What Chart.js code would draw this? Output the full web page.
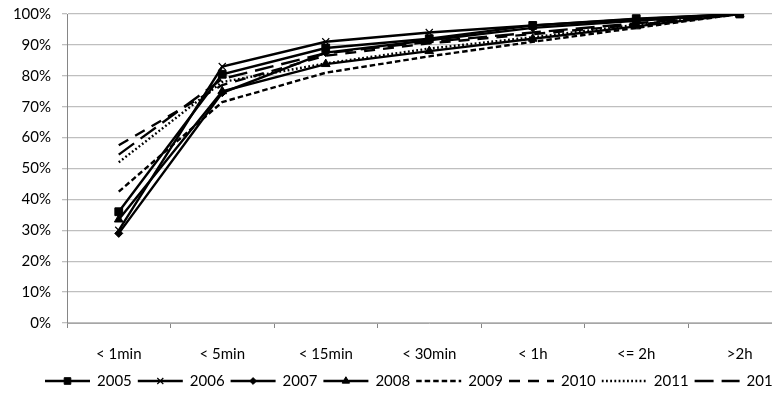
<!DOCTYPE html>
<html>
<head>
<meta charset="utf-8">
<script src="https://cdn.jsdelivr.net/npm/chart.js@4"></script>
<style>
    html, body { margin: 0; padding: 0; background: #ffffff; overflow: hidden; }
    #wrap { position: relative; width: 798px; height: 394px; }
</style>
</head>
<body>
<div id="wrap"><canvas id="chart"></canvas></div>
<script>
// categories along the x axis
const categories = ["< 1min", "< 5min", "< 15min", "< 30min", "< 1h", "<= 2h", ">2h"];
// cumulative share per year, percent
const years = ["2005", "2006", "2007", "2008", "2009", "2010", "2011", "2012"];
const v2005 = [36, 80.5, 89, 92, 96.3, 98.5, 100];
const v2006 = [30, 83, 91, 94, 96.3, 98.3, 100];
const v2007 = [29, 74.5, 87.5, 91.5, 95.5, 97.8, 100];
const v2008 = [33.5, 75, 83.8, 88, 92, 96, 100];
const v2009 = [42.5, 71.5, 81, 86.3, 91, 95.5, 100];
const v2010 = [57.5, 77, 86.5, 90.5, 93.5, 96.5, 100];
const v2011 = [52, 78, 84, 88.8, 92.5, 96.5, 100];
const v2012 = [54.5, 79, 87.3, 91, 94, 97, 100];
const yTicks = [0, 10, 20, 30, 40, 50, 60, 70, 80, 90, 100];

const seriesValues = [v2005, v2006, v2007, v2008, v2009, v2010, v2011, v2012];
// marker / dash per series (Excel black & white styles)
const styles = [
    { point: 'rect', radius: 5.5, dash: [] },
    { point: 'crossRot', radius: 5, dash: [] },
    { point: 'rectRot', radius: 4, dash: [] },
    { point: 'triangle', radius: 5, dash: [] },
    { point: false, radius: 0, dash: [5.5, 3] },
    { point: false, radius: 0, dash: [11, 8] },
    { point: false, radius: 0, dash: [1.8, 2.4] },
    { point: false, radius: 0, dash: [19, 8] }
];

const FONT = "Lato";
const datasets = years.map((y, i) => ({
    label: y,
    data: seriesValues[i],
    borderColor: '#000000',
    backgroundColor: '#000000',
    borderWidth: 2.4,
    borderDash: styles[i].dash,
    pointStyle: styles[i].point,
    pointRadius: styles[i].radius,
    pointBorderWidth: styles[i].point == 'crossRot' ? 1.2 : 1,
    pointBorderColor: '#000000',
    pointBackgroundColor: '#000000',
    tension: 0,
    order: years.length - i
}));

// legend drawn like Excel: line sample with marker, then the label
const lineLegend = {
    id: 'lineLegend',
    afterDraw(chart) {
        const ctx = chart.ctx;
        ctx.save();
        ctx.font = "15px " + FONT;
        ctx.textBaseline = 'middle';
        ctx.fillStyle = '#000000';
        ctx.strokeStyle = '#000000';
        let x = 45;
        const y = 381;
        for (let i = 0; i < years.length; i++) {
            const st = styles[i];
            ctx.lineWidth = 2.4;
            ctx.setLineDash(st.dash);
            ctx.beginPath();
            ctx.moveTo(x, y);
            ctx.lineTo(x + 45, y);
            ctx.stroke();
            ctx.setLineDash([]);
            if (st.point) {
                ctx.lineWidth = st.point == 'crossRot' ? 1.2 : 1;
                ctx.beginPath();
                Chart.helpers.drawPoint(ctx, {
                    pointStyle: st.point,
                    radius: st.radius * 0.85,
                    borderWidth: ctx.lineWidth,
                    rotation: 0
                }, x + 22.5, y);
            }
            ctx.fillText(years[i], x + 52, y);
            x += 52 + ctx.measureText(years[i]).width + 6;
        }
        ctx.restore();
    }
};

new Chart(document.getElementById('chart'), {
    type: 'line',
    data: { labels: categories, datasets: datasets },
    options: {
        responsive: true,
        maintainAspectRatio: false,
        animation: false,
        layout: { padding: { left: 0, right: 0, top: 14, bottom: 0 } },
        plugins: { legend: { display: false }, tooltip: { enabled: false } },
        scales: {
            x: {
                offset: true,
                grid: { offset: true, drawOnChartArea: false, tickLength: 5, color: '#868686', lineWidth: 1 },
                border: { color: '#a6a6a6', width: 1 },
                ticks: { color: '#000000', font: { family: FONT, size: 15 }, padding: 17, maxRotation: 0, autoSkip: false },
                afterFit(scale) { scale.height = 71; scale.paddingLeft = 0; scale.paddingRight = 0; }
            },
            y: {
                min: 0,
                max: 100,
                afterBuildTicks(scale) { scale.ticks = yTicks.map(v => ({ value: v })); },
                grid: { color: '#bfbfbf', lineWidth: 1.3, tickLength: 5 },
                border: { color: '#868686', width: 1 },
                ticks: {
                    color: '#000000',
                    font: { family: FONT, size: 15 },
                    padding: 11,
                    callback: v => v + '%'
                },
                afterFit(scale) { scale.width = 67; scale.paddingTop = 0; scale.paddingBottom = 0; }
            }
        }
    },
    plugins: [lineLegend]
});
</script>
</body>
</html>
